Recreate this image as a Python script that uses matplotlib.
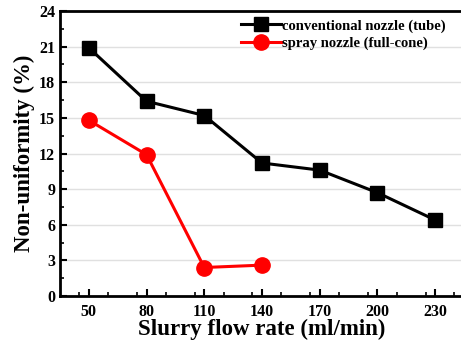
import matplotlib
matplotlib.use("Agg")
import matplotlib.pyplot as plt
from matplotlib.ticker import MultipleLocator

flow = [50, 80, 110, 140, 170, 200, 230]
conventional = [20.9, 16.4, 15.2, 11.2, 10.6, 8.7, 6.4]
spray_flow = [50, 80, 110, 140]
spray = [14.8, 11.9, 2.4, 2.6]
x_ticks = [50, 80, 110, 140, 170, 200, 230]
y_ticks = [0, 3, 6, 9, 12, 15, 18, 21, 24]

plt.rcParams['font.family'] = ['Liberation Serif', 'DejaVu Serif']
plt.rcParams['font.weight'] = 'bold'

fig = plt.figure(figsize=(4.61, 3.44), dpi=100)
ax = fig.add_axes([60/461, 48/344, 404/461, 285/344])

ax.plot(flow, conventional, color='black', lw=2.2, marker='s', ms=10,
        label='conventional nozzle (tube)', zorder=3)
ax.plot(spray_flow, spray, color='#ff0000', lw=2.2, marker='o', ms=11,
        label='spray nozzle (full-cone)', zorder=3)

ax.set_xlim(35, 245)
ax.set_ylim(0, 24)
ax.set_xticks(x_ticks)
ax.set_yticks(y_ticks)
ax.xaxis.set_minor_locator(MultipleLocator(15))
ax.yaxis.set_minor_locator(MultipleLocator(1.5))
ax.tick_params(which='major', direction='in', length=5, width=1.5, labelsize=11.5)
ax.tick_params(which='minor', direction='in', length=3, width=1.2)
ax.tick_params(axis='x', pad=6)
for lbl in ax.get_xticklabels() + ax.get_yticklabels():
    lbl.set_fontweight('bold')
ax.grid(axis='y', color='#e0e0e0', lw=1)
ax.set_axisbelow(True)
for s in ['left', 'bottom', 'top']:
    ax.spines[s].set_linewidth(2)
ax.spines['right'].set_visible(False)

ax.set_xlabel('Slurry flow rate (ml/min)', fontsize=16.5, fontweight='bold', labelpad=-1)
ax.set_ylabel('Non-uniformity (%)', fontsize=16.5, fontweight='bold', labelpad=3)

leg = ax.legend(loc='upper right', bbox_to_anchor=(0.975, 1.0), frameon=False,
                prop={'weight': 'bold', 'size': 10.5}, handlelength=2.7,
                handletextpad=0.1, borderaxespad=0.15, labelspacing=0.3)

fig.savefig('out.png', dpi=100)
